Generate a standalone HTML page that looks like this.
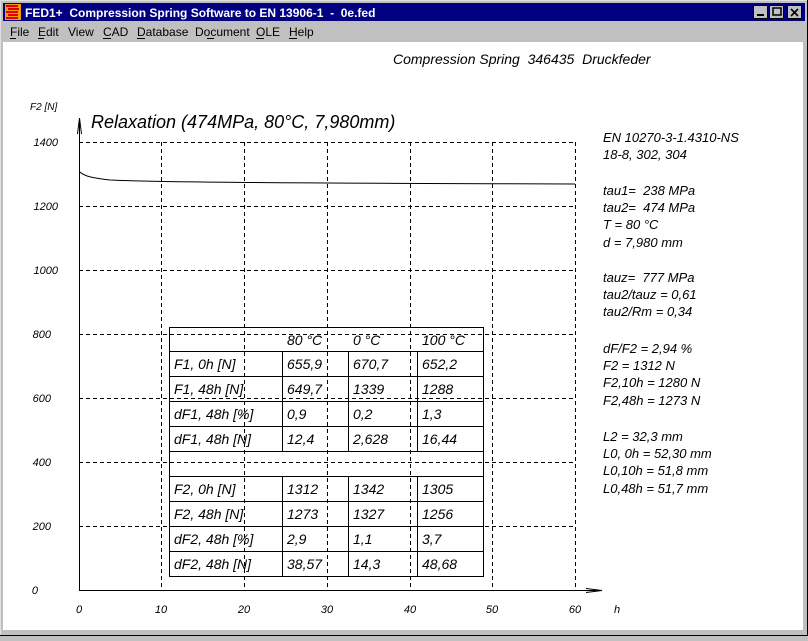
<!DOCTYPE html><html><head><style>
body{margin:0;width:808px;height:636px;background:#c0c0c0;overflow:hidden;font-family:"Liberation Sans",sans-serif}
text{white-space:pre}
</style></head><body>
<svg width="808" height="636" xmlns="http://www.w3.org/2000/svg" font-family="Liberation Sans, sans-serif">
<rect x="0" y="0" width="808" height="636" fill="#c0c0c0"/>
<line x1="0" y1="0.5" x2="808" y2="0.5" stroke="#dfdfdf"/>
<line x1="0.5" y1="0" x2="0.5" y2="636" stroke="#dfdfdf"/>
<line x1="807.5" y1="0" x2="807.5" y2="636" stroke="#000"/>
<line x1="0" y1="635.5" x2="808" y2="635.5" stroke="#000"/>
<rect x="3" y="3" width="802" height="18" fill="#000080"/>
<rect x="5" y="4" width="16" height="16" fill="#f0a000"/>
<path d="M6 6h12M8 9h11M6 12h12M8 15h10M6 18h12" stroke="#e00000" stroke-width="2"/>
<text x="25" y="17" fill="#fff" font-weight="bold" font-size="12">FED1+  Compression Spring Software to EN 13906-1  -  0e.fed</text>
<g fill="#c0c0c0" stroke="#000"><rect x="753.5" y="5.5" width="14" height="13"/><rect x="769.5" y="5.5" width="14" height="13"/><rect x="787.5" y="5.5" width="14" height="13"/></g>
<path d="M757 15h7" stroke="#000" stroke-width="2"/><rect x="773" y="8" width="8" height="7" fill="none" stroke="#000" stroke-width="1.5"/>
<path d="M791 9l7 7M798 9l-7 7" stroke="#000" stroke-width="1.6"/>
<g font-size="12" fill="#000"><text x="10" y="36">File</text><text x="38" y="36">Edit</text><text x="68" y="36">View</text><text x="103" y="36">CAD</text><text x="137" y="36">Database</text><text x="195" y="36">Document</text><text x="256" y="36">OLE</text><text x="289" y="36">Help</text></g>
<path d="M10 38.5h6M38 38.5h6M103 38.5h8M137 38.5h8M207 38.5h7M256 38.5h8M289 38.5h8" stroke="#000"/>
<rect x="3" y="42" width="800" height="588" fill="#fff"/>
<text x="393" y="64" font-size="14" font-style="italic">Compression Spring  346435  Druckfeder</text>
<text x="30" y="110" font-size="10" font-style="italic">F2 [N]</text>
<text x="91" y="128" font-size="18" font-style="italic">Relaxation (474MPa, 80°C, 7,980mm)</text>
<g stroke="#000" stroke-dasharray="4,3" stroke-width="1">
<path d="M79 142.5H575M79 206.5H575M79 270.5H575M79 334.5H575M79 398.5H575M79 462.5H575M79 526.5H575"/>
<path d="M161.5 142V590M244.5 142V590M327.5 142V590M410.5 142V590M492.5 142V590M575.5 142V590"/>
</g>
<path d="M79.5 590V118M79.5 118l-2 16M79.5 118l2 16M79 590.5H602M602 590.5l-16 -2M602 590.5l-16 2" stroke="#000" fill="none"/>
<g font-size="11" font-style="italic" text-anchor="end"><text x="58" y="146">1400</text><text x="58" y="210">1200</text><text x="58" y="274">1000</text><text x="51" y="338">800</text><text x="51" y="402">600</text><text x="51" y="466">400</text><text x="51" y="530">200</text><text x="38" y="594">0</text></g>
<g font-size="11" font-style="italic" text-anchor="middle"><text x="79" y="613">0</text><text x="161" y="613">10</text><text x="244" y="613">20</text><text x="327" y="613">30</text><text x="410" y="613">40</text><text x="492" y="613">50</text><text x="575" y="613">60</text><text x="617" y="613">h</text></g>
<path d="M80 172 C84 176 92 178 110 180 C150 182 250 183 575 184" stroke="#000" fill="none"/>
<g font-size="13" font-style="italic">
<text x="603" y="142">EN 10270-3-1.4310-NS</text><text x="603" y="159">18-8, 302, 304</text>
<text x="603" y="195">tau1=  238 MPa</text><text x="603" y="212">tau2=  474 MPa</text><text x="603" y="229">T = 80 °C</text><text x="603" y="247">d = 7,980 mm</text>
<text x="603" y="282">tauz=  777 MPa</text><text x="603" y="299">tau2/tauz = 0,61</text><text x="603" y="316">tau2/Rm = 0,34</text>
<text x="603" y="353">dF/F2 = 2,94 %</text><text x="603" y="370">F2 = 1312 N</text><text x="603" y="387">F2,10h = 1280 N</text><text x="603" y="405">F2,48h = 1273 N</text>
<text x="603" y="441">L2 = 32,3 mm</text><text x="603" y="458">L0, 0h = 52,30 mm</text><text x="603" y="475">L0,10h = 51,8 mm</text><text x="603" y="493">L0,48h = 51,7 mm</text>
</g>
<g stroke="#000" fill="none">
<rect x="169.5" y="327.5" width="314" height="249"/>
<path d="M169 351.5H483M169 376.5H483M169 401.5H483M169 426.5H483M169 451.5H483M169 476.5H483M169 501.5H483M169 526.5H483M169 551.5H483"/>
<path d="M282.5 351V451M348.5 351V451M417.5 351V451M282.5 476V576M348.5 476V576M417.5 476V576"/>
</g>
<g font-size="14" font-style="italic" fill="#000">
<text x="287" y="345">80 °C</text><text x="353" y="345">0 °C</text><text x="422" y="345">100 °C</text>
<text x="174" y="369">F1, 0h [N]</text><text x="287" y="369">655,9</text><text x="353" y="369">670,7</text><text x="422" y="369">652,2</text>
<text x="174" y="394">F1, 48h [N]</text><text x="287" y="394">649,7</text><text x="353" y="394">1339</text><text x="422" y="394">1288</text>
<text x="174" y="419">dF1, 48h [%]</text><text x="287" y="419">0,9</text><text x="353" y="419">0,2</text><text x="422" y="419">1,3</text>
<text x="174" y="444">dF1, 48h [N]</text><text x="287" y="444">12,4</text><text x="353" y="444">2,628</text><text x="422" y="444">16,44</text>
<text x="174" y="494">F2, 0h [N]</text><text x="287" y="494">1312</text><text x="353" y="494">1342</text><text x="422" y="494">1305</text>
<text x="174" y="519">F2, 48h [N]</text><text x="287" y="519">1273</text><text x="353" y="519">1327</text><text x="422" y="519">1256</text>
<text x="174" y="544">dF2, 48h [%]</text><text x="287" y="544">2,9</text><text x="353" y="544">1,1</text><text x="422" y="544">3,7</text>
<text x="174" y="569">dF2, 48h [N]</text><text x="287" y="569">38,57</text><text x="353" y="569">14,3</text><text x="422" y="569">48,68</text>
</g>
</svg>
</body></html>
